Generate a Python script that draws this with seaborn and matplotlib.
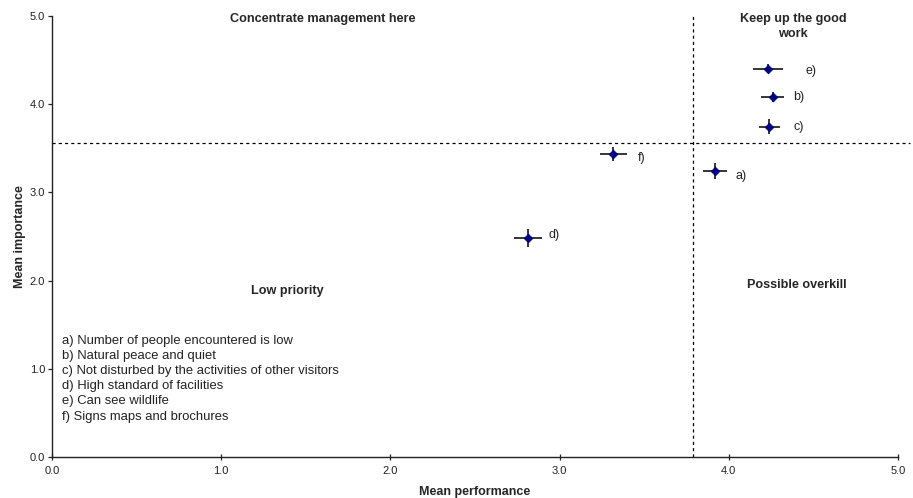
import matplotlib
matplotlib.use("Agg")
import matplotlib.pyplot as plt
import seaborn as sns
import pandas as pd

# item labels and their means
items = ['a)', 'b)', 'c)', 'd)', 'e)', 'f)']
performance = [3.92, 4.26, 4.24, 2.815, 4.23, 3.317]
importance = [3.246, 4.08, 3.745, 2.483, 4.40, 3.435]
perf_err = [0.071, 0.067, 0.064, 0.083, 0.089, 0.081]
imp_err = [0.089, 0.057, 0.085, 0.099, 0.05, 0.08]

descriptions = [
    'a) Number of people encountered is low',
    'b) Natural peace and quiet',
    'c) Not disturbed by the activities of other visitors',
    'd) High standard of facilities',
    'e) Can see wildlife',
    'f) Signs maps and brochures',
]

mean_perf = 3.79
mean_imp = 3.56

# label offsets in points
label_dx = [14.5, 15, 17, 14.5, 27.5, 17.5]
label_dy = [-4, 0, 0, 2.5, -1.5, -3]

df = pd.DataFrame({'item': items, 'perf': performance, 'imp': importance,
                   'perf_err': perf_err, 'imp_err': imp_err})

sns.set_style('ticks')
plt.rcParams['font.family'] = ['Liberation Sans', 'DejaVu Sans']

fig = plt.figure(figsize=(9.13, 4.98), dpi=100)
ax = fig.add_axes([0.057, 0.0823, 0.9266, 0.8856])

ax.errorbar(df['perf'], df['imp'], xerr=df['perf_err'], yerr=df['imp_err'],
            fmt='none', ecolor='black', elinewidth=1.1, capsize=0, zorder=2)
sns.scatterplot(data=df, x='perf', y='imp', marker='D', s=20, color='#000080',
                edgecolor='#000080', linewidth=0.5, ax=ax, zorder=3)

for i, row in df.iterrows():
    ax.annotate(row['item'], (row['perf'], row['imp']),
                xytext=(label_dx[i], label_dy[i]), textcoords='offset points',
                ha='left', va='center', fontsize=9, color='#222222')

ax.plot([0, 5.07], [mean_imp, mean_imp], color='black', ls=(0, (2.5, 2.5)),
        lw=0.9, clip_on=False, zorder=1)
ax.plot([mean_perf, mean_perf], [0, 5], color='black', ls=(0, (2.5, 2.5)),
        lw=0.9, clip_on=False, zorder=1)

ax.set_xlim(0, 5)
ax.set_ylim(0, 5)
ax.set_xticks([0, 1, 2, 3, 4, 5])
ax.set_yticks([0, 1, 2, 3, 4, 5])
ax.set_xticklabels([f'{v:.1f}' for v in range(6)])
ax.set_yticklabels([f'{v:.1f}' for v in range(6)])
ax.tick_params(axis='x', direction='inout', length=5, width=0.9, labelsize=8, pad=4,
               colors='#222222')
ax.tick_params(axis='y', direction='out', length=3, width=0.9, labelsize=8, pad=2,
               colors='#222222')
for s in ['left', 'bottom']:
    ax.spines[s].set_linewidth(1.0)
    ax.spines[s].set_color('#222222')
sns.despine(ax=ax)

ax.set_xlabel('Mean performance', fontsize=9, fontweight='bold', labelpad=7)
ax.set_ylabel('Mean importance', fontsize=9, fontweight='bold', labelpad=3)

ax.text(1.60, 4.966, 'Concentrate management here', ha='center', va='center',
        fontsize=9.1, fontweight='bold')
ax.text(4.38, 4.883, 'Keep up the good\nwork', ha='center', va='center',
        fontsize=9.1, fontweight='bold', linespacing=1.3)
ax.text(1.39, 1.88, 'Low priority', ha='center', va='center',
        fontsize=9.1, fontweight='bold')
ax.text(4.40, 1.95, 'Possible overkill', ha='center', va='center',
        fontsize=9.1, fontweight='bold')

ax.text(0.06, 1.385, '\n'.join(descriptions), ha='left', va='top',
        fontsize=9.4, color='#222222', linespacing=1.35)

fig.savefig('out.png', dpi=100)
